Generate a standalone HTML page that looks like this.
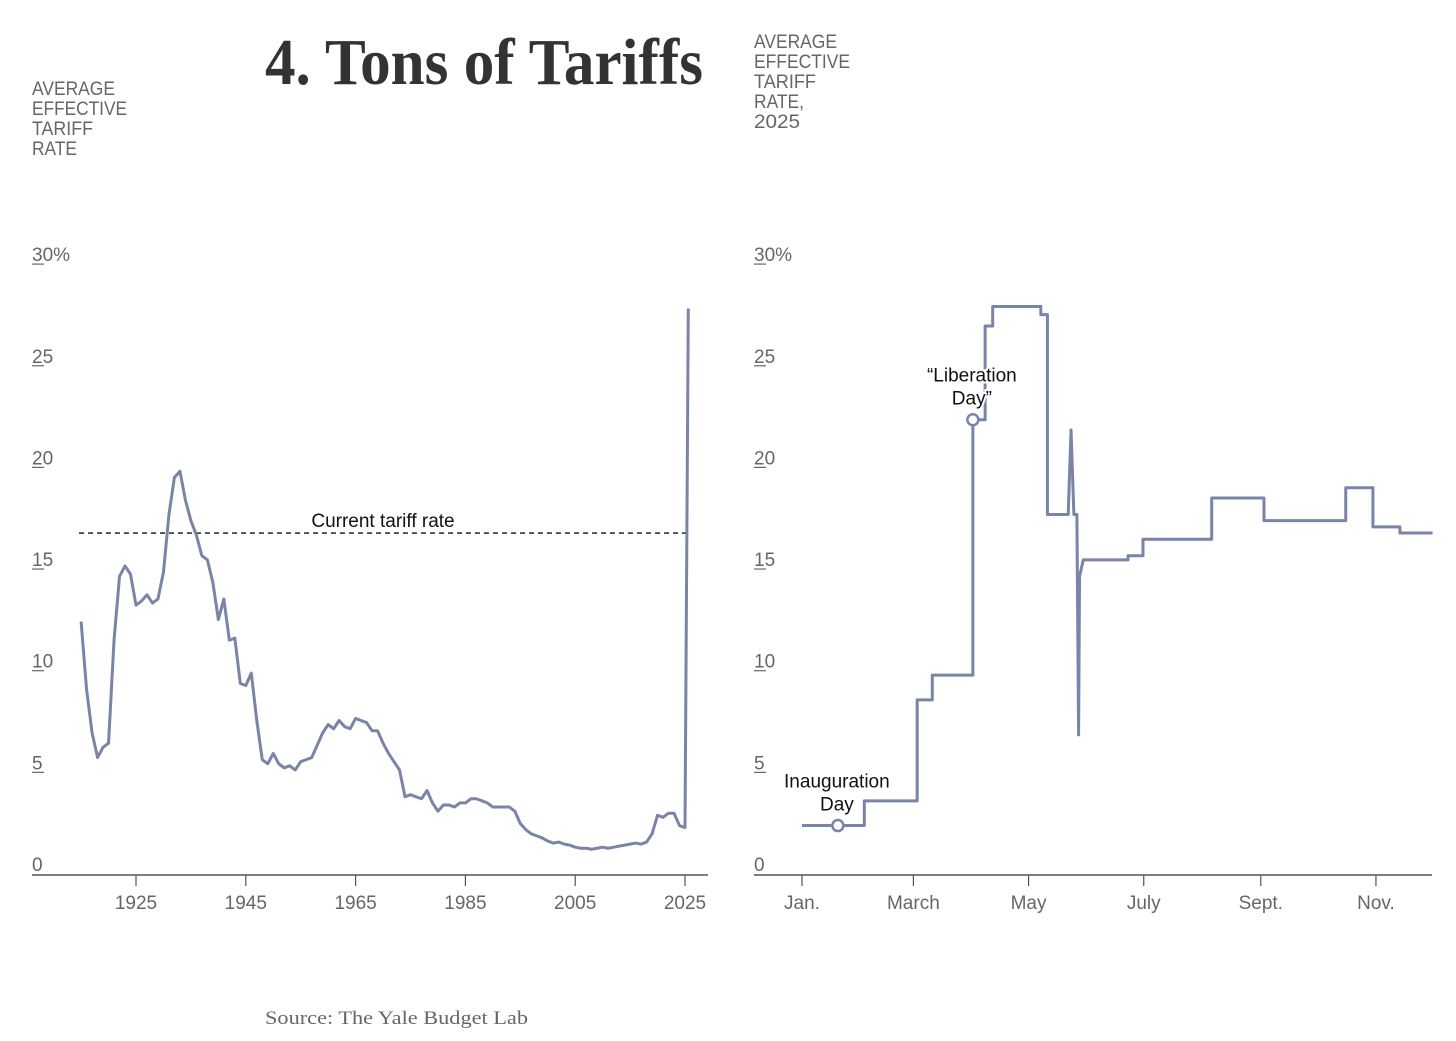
<!DOCTYPE html>
<html><head><meta charset="utf-8"><style>
html,body{margin:0;padding:0;background:#fff;}
svg{display:block;}
</style></head><body>
<svg id="c" width="1456" height="1041" viewBox="0 0 1456 1041" font-family="Liberation Sans, sans-serif">
<text x="265" y="84" style="font-family:'Liberation Serif',serif;font-weight:bold;font-size:66px" fill="#333" textLength="438" lengthAdjust="spacingAndGlyphs">4. Tons of Tariffs</text>
<g fill="#666" font-size="19">
<text x="32" y="95" textLength="83" lengthAdjust="spacingAndGlyphs">AVERAGE</text><text x="32" y="115" textLength="95" lengthAdjust="spacingAndGlyphs">EFFECTIVE</text><text x="32" y="135" textLength="61" lengthAdjust="spacingAndGlyphs">TARIFF</text><text x="32" y="155" textLength="45" lengthAdjust="spacingAndGlyphs">RATE</text></g>
<g fill="#666" font-size="19">
<text x="754" y="48" textLength="83" lengthAdjust="spacingAndGlyphs">AVERAGE</text><text x="754" y="68" textLength="96" lengthAdjust="spacingAndGlyphs">EFFECTIVE</text><text x="754" y="88" textLength="62" lengthAdjust="spacingAndGlyphs">TARIFF</text><text x="754" y="108" textLength="50" lengthAdjust="spacingAndGlyphs">RATE,</text><text x="754" y="128" textLength="46" lengthAdjust="spacingAndGlyphs">2025</text></g>
<text x="265" y="1024" style="font-family:'Liberation Serif',serif;font-size:19px" fill="#666" textLength="263" lengthAdjust="spacingAndGlyphs">Source: The Yale Budget Lab</text>
<g id="L"></g><g id="R"></g>
</svg>
<script>
const yTicks=[0,5,10,15,20,25,30];
const yTickLabels=["0","5","10","15","20","25","30%"];
const histYears=[1915,1916,1917,1918,1919,1920,1921,1922,1923,1924,1925,1926,1927,1928,1929,1930,1931,1932,1933,1934,1935,1936,1937,1938,1939,1940,1941,1942,1943,1944,1945,1946,1947,1948,1949,1950,1951,1952,1953,1954,1955,1956,1957,1958,1959,1960,1961,1962,1963,1964,1965,1966,1967,1968,1969,1970,1971,1972,1973,1974,1975,1976,1977,1978,1979,1980,1981,1982,1983,1984,1985,1986,1987,1988,1989,1990,1991,1992,1993,1994,1995,1996,1997,1998,1999,2000,2001,2002,2003,2004,2005,2006,2007,2008,2009,2010,2011,2012,2013,2014,2015,2016,2017,2018,2019,2020,2021,2022,2023,2024,2025,2025.6];
const histRates=[12.3,9.0,6.9,5.7,6.2,6.4,11.4,14.5,15.0,14.6,13.1,13.3,13.6,13.2,13.4,14.7,17.5,19.3,19.6,18.2,17.2,16.5,15.5,15.3,14.2,12.4,13.4,11.4,11.5,9.3,9.2,9.8,7.5,5.6,5.4,5.9,5.4,5.2,5.3,5.1,5.5,5.6,5.7,6.3,6.9,7.3,7.1,7.5,7.2,7.1,7.6,7.5,7.4,7.0,7.0,6.4,5.9,5.5,5.1,3.8,3.9,3.8,3.7,4.1,3.5,3.1,3.4,3.4,3.3,3.5,3.5,3.7,3.7,3.6,3.5,3.3,3.3,3.3,3.3,3.1,2.5,2.2,2.0,1.9,1.8,1.65,1.55,1.6,1.5,1.45,1.35,1.3,1.3,1.25,1.3,1.35,1.3,1.35,1.4,1.45,1.5,1.55,1.5,1.6,2.0,2.9,2.8,3.0,3.0,2.4,2.3,27.5,16.4];
const histTicks=[1925,1945,1965,1985,2005,2025];
const currentRate=16.6;
const days=[0,19,33,33,61,61,69,69,90.5,90.5,97,97,101,101,126.5,126.5,130,130,141,142.5,144,145.6,145.6,146.5,147,149,172.7,172.7,180.6,180.6,217,217,244.7,244.7,288,288,302.4,302.4,316.7,316.7,334];
const rates2025=[2.4,2.4,2.4,3.6,3.6,8.5,8.5,9.7,9.7,22.1,22.1,26.65,26.65,27.6,27.6,27.2,27.2,17.5,17.5,21.6,17.5,17.5,17.5,6.8,14.5,15.3,15.3,15.5,15.5,16.3,16.3,18.3,18.3,17.2,17.2,18.8,18.8,16.9,16.9,16.6,16.6];
const monthDays=[0,59,120,181,243,304];
const monthLabels=["Jan.","March","May","July","Sept.","Nov."];
const annot=[{day:19,val:2.4,lines:["Inauguration","Day"],name:"inauguration-day"},{day:90.5,val:22.1,lines:["\u201cLiberation","Day\u201d"],name:"liberation-day"}];

const NS="http://www.w3.org/2000/svg";
const y=v=>875-v*20.6;
const yl=v=>871-v*20.33;
const xL=yr=>136+(yr-1925)*5.49;
const xR=d=>802+d*1.888;
function mk(p,t,a){const e=document.createElementNS(NS,t);for(const k in a)e.setAttribute(k,a[k]);p.appendChild(e);return e;}
function axis(g,x0,x1,side){
  yTicks.forEach((v,i)=>{
    const t=mk(g,'text',{x:x0,y:yl(v),fill:'#666','font-size':19});
    
    
    t.textContent=yTickLabels[i];
    if(v>0){const u=mk(g,'line',{x1:x0,x2:x0+12,y1:yl(v)+3,y2:yl(v)+3,stroke:'#666','stroke-width':1.2});
      
      }
  });
  const a=mk(g,'line',{x1:x0,x2:x1,y1:875,y2:875,stroke:'#555','stroke-width':1.5});
  
  
}
const L=document.getElementById('L'),R=document.getElementById('R');
axis(L,32,708,'left');axis(R,754,1432,'right');
histTicks.forEach(t=>{
  const m=mk(L,'line',{x1:xL(t),x2:xL(t),y1:875,y2:886,stroke:'#555','stroke-width':1.2});
  
  
  const tx=mk(L,'text',{x:xL(t),y:909,'text-anchor':'middle',fill:'#666','font-size':19});
  
  
  tx.textContent=t;
});
monthDays.forEach((d,i)=>{
  const m=mk(R,'line',{x1:xR(d),x2:xR(d),y1:875,y2:886,stroke:'#555','stroke-width':1.2});
  
  
  const tx=mk(R,'text',{x:xR(d),y:909,'text-anchor':'middle',fill:'#666','font-size':19});
  
  
  tx.textContent=monthLabels[i];
});
const dl=mk(L,'line',{x1:79,x2:xL(2025.5),y1:y(currentRate),y2:y(currentRate),stroke:'#111','stroke-width':1.3,'stroke-dasharray':'5,4'});


const dt=mk(L,'text',{x:383,y:y(currentRate)-6,'text-anchor':'middle',fill:'#111','font-size':19});


dt.textContent='Current tariff rate';
const p1=mk(L,'polyline',{points:histYears.map((t,i)=>xL(t)+','+y(histRates[i])).join(' '),fill:'none',stroke:'#7a84a8','stroke-width':3,'stroke-linejoin':'round'});


const p2=mk(R,'polyline',{points:days.map((d,i)=>xR(d)+','+y(rates2025[i])).join(' '),fill:'none',stroke:'#7a84a8','stroke-width':3,'stroke-linejoin':'round'});


annot.forEach(a=>{
  const cx=xR(a.day),cy=y(a.val);
  a.lines.forEach((s,j)=>{
    const t=mk(R,'text',{x:cx-1,y:cy-38+j*23,'text-anchor':'middle',fill:'#111','font-size':19,stroke:'#fff','stroke-width':4,'paint-order':'stroke'});
    
    
    t.textContent=s;
  });
  const c=mk(R,'circle',{cx:cx,cy:cy,r:5.5,fill:'#fff',stroke:'#7a84a8','stroke-width':2.5});
  
  
});
</script>
</body></html>
